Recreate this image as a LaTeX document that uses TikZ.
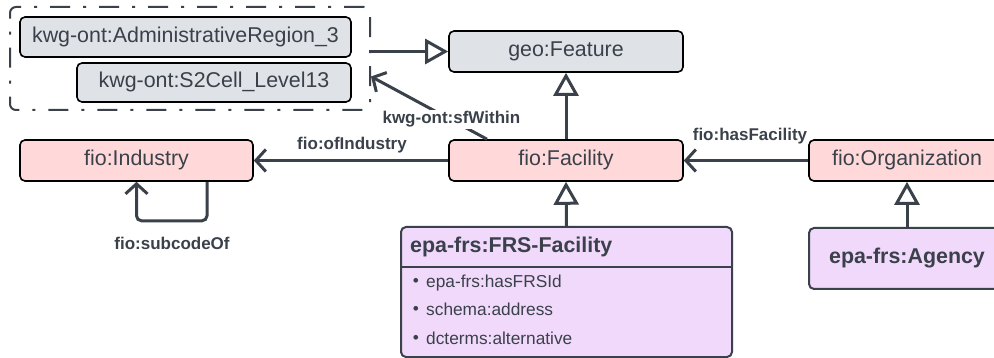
\documentclass[tikz,border=0pt]{standalone}
\usepackage{fontspec}
\setmainfont{Liberation Sans}
\usetikzlibrary{arrows.meta,calc}
\definecolor{ink}{HTML}{3A414A}
\definecolor{grayfill}{HTML}{DFE2E7}
\definecolor{pinkfill}{HTML}{FFD9D9}
\definecolor{purplefill}{HTML}{F1D9FC}
\begin{document}
\begin{tikzpicture}[x=1pt,y=-1pt,
  box/.style={draw=black, line width=1.6pt, rounded corners=5pt, inner sep=0pt,
    text=ink, font=\fontsize{21.4}{25}\selectfont, text height=15pt, text depth=4.5pt},
  graybox/.style={box, fill=grayfill},
  pinkbox/.style={box, fill=pinkfill},
  purplebox/.style={box, fill=purplefill, draw=ink, line width=2pt},
  groupbox/.style={draw=ink, line width=2pt, dash pattern=on 20pt off 13pt on 3pt off 13pt,
    rounded corners=6pt, inner sep=0pt},
  conn/.style={draw=ink, line width=3pt},
  gen/.style={conn, -{Triangle[open, length=23pt, width=25pt]}},
  assoc/.style={conn, -{Straight Barb[length=10pt, width=22pt]}},
  lbl/.style={text=ink, font=\fontsize{17}{20}\selectfont\bfseries, inner sep=1.5pt},
  item/.style={text=ink, font=\fontsize{17.3}{20}\selectfont, inner sep=0pt, anchor=west,
    text height=12.5pt, text depth=3.5pt},
  bullet/.style={text=ink, font=\fontsize{17.3}{20}\selectfont, inner sep=0pt},
  title/.style={text=ink, font=\fontsize{21.4}{25}\selectfont\bfseries, inner sep=0pt, anchor=west,
    text height=15pt, text depth=4.5pt}
]
\useasboundingbox (0,0) rectangle (994,358);
\clip (0,0) rectangle (994,358);

% group of spatial classes
\node[groupbox, minimum width=360pt, minimum height=103pt] (group) at (190,58.5) {};
\node[graybox, minimum width=331pt, minimum height=40pt] (admin) at (185.5,37) {kwg-ont:AdministrativeRegion\_3};
\node[graybox, minimum width=274pt, minimum height=39pt] (s2) at (214,82.5) {kwg-ont:S2Cell\_Level13};

% main classes
\node[graybox, minimum width=234pt, minimum height=41pt] (geo) at (566,51.5) {geo:Feature};
\node[pinkbox, minimum width=233pt, minimum height=41pt] (industry) at (136.5,160.5) {fio:Industry};
\node[pinkbox, minimum width=234pt, minimum height=41pt] (facility) at (566,160.5) {fio:Facility};
\node[pinkbox, minimum width=196pt, minimum height=41pt] (org) at (907,160.5) {fio:Organization};

% FRS facility class with attributes
\node[purplebox, minimum width=331pt, minimum height=130pt] (frs) at (566.5,292) {};
\coordinate (divy) at (0,267);
\draw[draw=ink, line width=2pt] (frs.west |- divy) -- (frs.east |- divy);
\node[title] (frstitle) at (410,247) {epa-frs:FRS-Facility};
\node[bullet] (b1) at (416,282) {\textbullet};
\node[bullet] (b2) at (416,310.5) {\textbullet};
\node[bullet] (b3) at (416,339) {\textbullet};
\node[item] (it1) at (426,283) {epa-frs:hasFRSId};
\node[item] (it2) at (426,311) {schema:address};
\node[item] (it3) at (426,340) {dcterms:alternative};

\node[purplebox, minimum width=196pt, minimum height=61pt, font=\fontsize{21.4}{25}\selectfont\bfseries] (agency) at (907,258.5) {epa-frs:Agency};

% generalizations
\draw[gen] (group.east |- geo.west) -- (geo.west);
\draw[gen] (facility.north) -- (geo.south);
\draw[gen] (frs.north) -- (facility.south);
\draw[gen] (agency.north) -- (org.south);

% associations
\draw[assoc] (facility.west) -- node[lbl, above=4pt, xshift=1pt] {fio:ofIndustry} (industry.east);
\draw[assoc] (org.west) -- node[lbl, above=13pt, xshift=4pt] {fio:hasFacility} (facility.east);

\coordinate (sfstart) at ([xshift=-79pt]facility.north);
\coordinate (sfend) at ([yshift=-18pt]group.east);
\draw[assoc] (sfstart) -- node[lbl, fill=white, pos=0.35, xshift=5pt, yshift=-2pt] {kwg-ont:sfWithin} (sfend);

\coordinate (loopstart) at ([xshift=70.5pt]industry.south);
\draw[assoc, rounded corners=5pt] (loopstart) -- ++(0,39) -| (industry.south);
\node[lbl] (subcode) at (172,243) {fio:subcodeOf};
\end{tikzpicture}
\end{document}
